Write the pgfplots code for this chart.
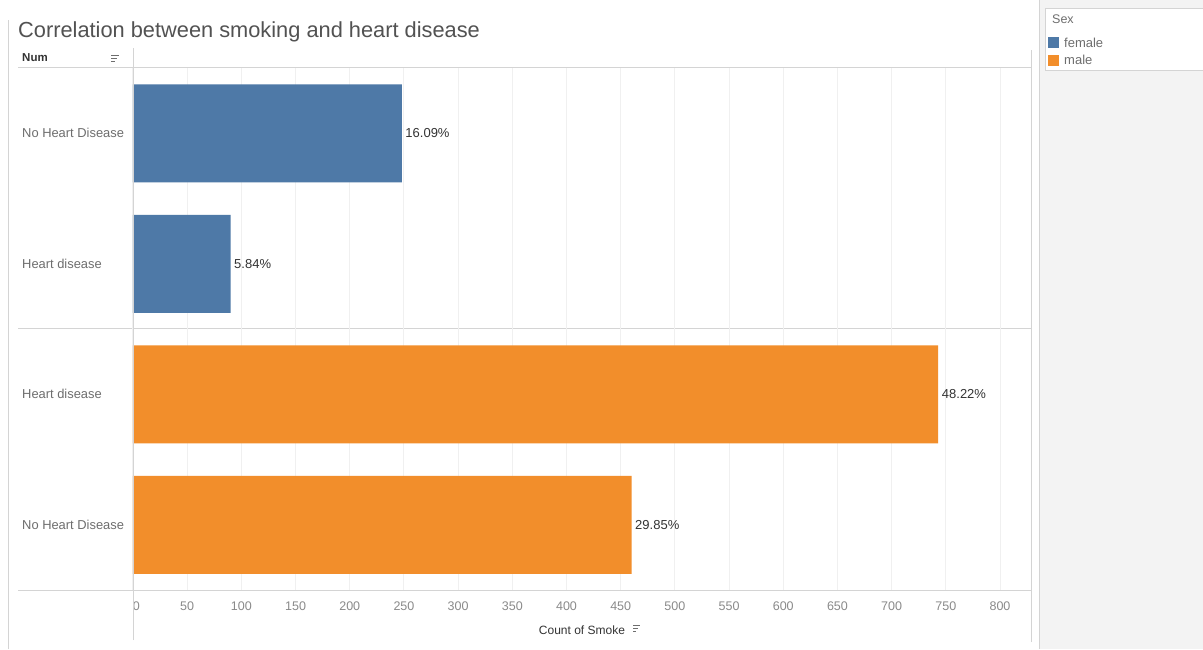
\documentclass[border=0pt]{standalone}
\usepackage{pgfplots}
\pgfplotsset{compat=1.18}
\usepackage{fontspec}
\setmainfont{Liberation Sans}
\definecolor{fem}{HTML}{4E79A7}
\definecolor{mal}{HTML}{F28E2B}
\definecolor{lineg}{HTML}{D4D4D4}
\definecolor{gridg}{HTML}{F0F0F0}
\definecolor{txtg}{HTML}{6E6E6E}
\definecolor{tickg}{HTML}{8A8A8A}
\definecolor{dark}{HTML}{333333}
\definecolor{panel}{HTML}{F3F3F3}
\begin{document}
\begin{tikzpicture}[x=1pt,y=1pt]
\useasboundingbox (0,0) rectangle (1203,649);
\fill[white] (0,0) rectangle (1203,649);
% right panel
\fill[panel] (1040,0) rectangle (1203,649);
\draw[lineg, line width=1.5pt] (1039.5,0) -- (1039.5,649);
\fill[white] (1045,579) rectangle (1203,641);
\draw[lineg] (1045,579) -- (1045,641) -- (1203,641);
\draw[lineg] (1045,579) -- (1203,579);
\node[anchor=west, text=txtg, font=\fontsize{12.5}{14}\selectfont, inner sep=0pt] at (1052,630) {Sex};
\fill[fem] (1048,601) rectangle (1059,612);
\node[anchor=west, text=txtg, font=\fontsize{13}{14}\selectfont, inner sep=0pt] at (1064,606) {female};
\fill[mal] (1048,583) rectangle (1059,594);
\node[anchor=west, text=txtg, font=\fontsize{13}{14}\selectfont, inner sep=0pt] at (1064,589) {male};
% left border
\draw[lineg, line width=1pt] (8,0) -- (8,629);
% title
\node[anchor=base west, text=dark!85, font=\fontsize{21.8}{24}\selectfont, inner sep=0pt] at (18,611.5) {Correlation between smoking and heart disease};
% header
\node[anchor=west, text=dark, font=\bfseries\fontsize{11.5}{14}\selectfont, inner sep=0pt] at (22,591) {Num};
\draw[txtg, line width=0.8pt] (111,594) -- (119,594) (111,591) -- (117,591) (111,588) -- (115,588);
\draw[lineg, line width=1pt] (18,581) -- (1031,581);
\draw[lineg, line width=1pt] (18,320) -- (1031,320);
\draw[lineg, line width=1pt] (18,59) -- (1031,59);
\begin{axis}[
  at={(133pt,59pt)}, anchor=south west,
  scale only axis, width=898pt, height=522pt,
  xmin=0, xmax=828.6, ymin=-0.5, ymax=3.5, y dir=reverse,
  axis line style={draw=none},
  xmajorgrids, grid style={gridg, line width=1pt},
  xtick={0,50,...,800},
  xticklabels={\phantom{0}0,50,100,150,200,250,300,350,400,450,500,550,600,650,700,750,800},
  ytick={0,1,2,3},
  yticklabels={No Heart Disease, Heart disease, Heart disease, No Heart Disease},
  major tick length=0pt,
  /pgf/number format/assume math mode=true,
  xticklabel style={text=tickg, font=\fontsize{12.5}{14}\selectfont, yshift=-8pt},
  yticklabel style={anchor=west, text=txtg, font=\fontsize{12.9}{14}\selectfont, inner sep=0pt, xshift=-111pt},
  xlabel={Count of Smoke},
  xlabel style={text=dark, font=\fontsize{12}{14}\selectfont, yshift=-9pt},
  clip=false,
  nodes near coords style={anchor=west, text=dark, font=\fontsize{13}{14}\selectfont, inner sep=3.5pt},
]
\addplot[xbar, bar width=98pt, bar shift=0pt, fill=fem, draw=none,
  point meta=explicit symbolic, nodes near coords]
  coordinates {(248,0) [16.09\%] (90,1) [5.84\%]};
\addplot[xbar, bar width=98pt, bar shift=0pt, fill=mal, draw=none,
  point meta=explicit symbolic, nodes near coords]
  coordinates {(743,2) [48.22\%] (460,3) [29.85\%]};
\end{axis}
% axis frame verticals
\draw[lineg, line width=1pt] (133,9) -- (133,601);
\draw[lineg, line width=1pt] (1031,7) -- (1031,599);
\draw[txtg, line width=0.7pt] (633,24) -- (640,24) (633,21) -- (638,21) (633,18) -- (636,18);
\end{tikzpicture}
\end{document}
